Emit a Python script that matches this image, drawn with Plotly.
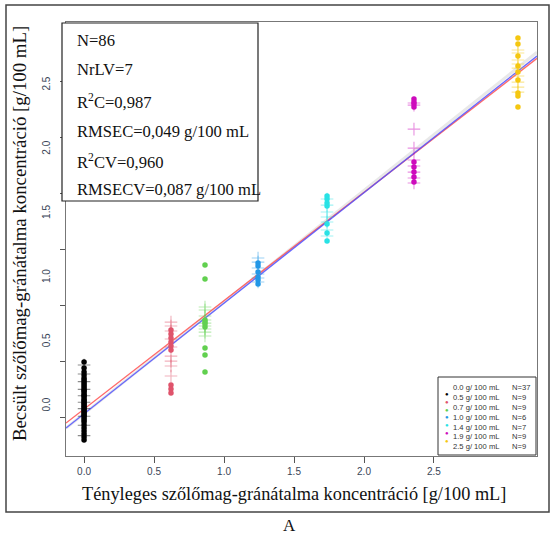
import plotly.graph_objects as go

# ---------------- data ----------------
groups = ["0.0 g/ 100 mL", "0.5 g/ 100 mL", "0.7 g/ 100 mL", "1.0 g/ 100 mL",
          "1.4 g/ 100 mL", "1.9 g/ 100 mL", "2.5 g/ 100 mL"]
group_n = ["N=37", "N=9", "N=9", "N=6", "N=7", "N=9", "N=9"]
colors = ["#000000", "#DF536B", "#61D04F", "#2297E6", "#28E2E5", "#CD0BBC", "#F5C710"]
cv_colors = ["rgba(0,0,0,0.45)", "rgba(223,83,107,0.45)", "rgba(97,208,79,0.45)",
             "rgba(34,151,230,0.45)", "rgba(40,226,229,0.45)", "rgba(205,11,188,0.45)",
             "rgba(245,199,16,0.45)"]
actual_x = [0.0, 0.621, 0.864, 1.243, 1.736, 2.357, 3.10]

pred_cal = [
    [0.343, 0.296, 0.265, 0.241, 0.218, 0.202, 0.187, 0.171, 0.156, 0.140, 0.125,
     0.117, 0.101, 0.086, 0.078, 0.062, 0.047, 0.039, 0.023, 0.016, 0.000, -0.008,
     -0.023, -0.031, -0.047, -0.055, -0.070, -0.078, -0.093, -0.109, -0.125, -0.148,
     -0.171, -0.195, -0.218, -0.241, -0.265],
    [0.592, 0.561, 0.530, 0.498, 0.467, 0.436, 0.164, 0.132, 0.101],
    [1.098, 0.989, 0.670, 0.654, 0.639, 0.615, 0.452, 0.397, 0.265],
    [1.114, 1.090, 1.044, 1.005, 0.981, 0.950],
    [1.636, 1.612, 1.581, 1.558, 1.417, 1.347, 1.285],
    [2.391, 2.368, 2.352, 2.329, 1.900, 1.861, 1.822, 1.783, 1.745],
    [2.866, 2.819, 2.726, 2.648, 2.601, 2.539, 2.438, 2.414, 2.329],
]
pred_cv = [
    [0.320, 0.250, 0.190, 0.130, 0.080, 0.030, -0.020, -0.080, -0.150, -0.230],
    [0.654, 0.623, 0.584, 0.522, 0.460, 0.389, 0.350, 0.312, 0.234],
    [0.771, 0.748, 0.701, 0.670, 0.646, 0.623, 0.600, 0.576, 0.545],
    [1.153, 1.121, 1.075, 1.028, 0.997, 0.966],
    [1.612, 1.565, 1.511, 1.472, 1.433, 1.371, 1.324],
    [2.360, 2.344, 2.157, 2.009, 1.916, 1.869, 1.822, 1.776, 1.737],
    [2.773, 2.749, 2.695, 2.664, 2.632, 2.570, 2.523, 2.484, 2.445],
]

# regression lines (intercept, slope)
fit_names = ["target", "calibration", "cross-validation"]
fit_intercept = [-0.060, -0.0235, -0.060]
fit_slope = [0.870, 0.844, 0.861]
fit_colors = ["rgba(190,190,190,0.35)", "rgba(255,80,80,0.85)", "rgba(80,80,255,0.85)"]
fit_widths = [3.0, 1.4, 1.4]

stats_lines = ["N=86", "NrLV=7", "R<sup>2</sup>C=0,987", "RMSEC=0,049 g/100 mL",
               "R<sup>2</sup>CV=0,960", "RMSECV=0,087 g/100 mL"]

x_ticks = [0.0, 0.5, 1.0, 1.5, 2.0, 2.5]
x_ticktext = ["0.0", "0.5", "1.0", "1.5", "2.0", "2.5"]
y_ticks = [0.0, 0.5, 1.0, 1.5, 2.0, 2.5]
y_ticktext = ["0.0", "0.5", "1.0", "1.5", "2.0", "2.5"]
y_tickmarks = [0.0, 0.5, 1.0, 1.5, 2.0, 2.5, 3.0]

x_title = "Tényleges szőlőmag-gránátalma koncentráció [g/100 mL]"
y_title = "Becsült szőlőmag-gránátalma koncentráció [g/100 mL]"

# ---------------- layout geometry ----------------
W, H = 554, 534
L, R, T, B = 66, 537, 22, 456          # plot area in pixels
x_range = [-0.129, 3.236]
y_range = [-0.389, 2.991]
y2_range = [-0.348, 3.527]


def px(x):
    return (x - L) / (R - L)


def py(y):
    return (B - y) / (B - T)


serif = "Liberation Serif, Times New Roman, serif"
sans = "Liberation Sans, Arial, sans-serif"

fig = go.Figure()

# fit lines
for name, b0, b1, c, w in zip(fit_names, fit_intercept, fit_slope, fit_colors, fit_widths):
    fig.add_trace(go.Scatter(x=x_range, y=[b0 + b1 * x_range[0], b0 + b1 * x_range[1]],
                             mode="lines", line=dict(color=c, width=w),
                             showlegend=False, hoverinfo="skip", name=name))

# cross-validation crosses
for i in range(len(groups)):
    fig.add_trace(go.Scatter(x=[actual_x[i]] * len(pred_cv[i]), y=pred_cv[i], mode="markers",
                             marker=dict(symbol="cross-thin", size=9,
                                         line=dict(color=cv_colors[i], width=1.1)),
                             showlegend=False, name=groups[i] + " CV"))

# calibration points
for i in range(len(groups)):
    fig.add_trace(go.Scatter(x=[actual_x[i]] * len(pred_cal[i]), y=pred_cal[i], mode="markers",
                             marker=dict(symbol="circle", size=5.5, color=colors[i]),
                             showlegend=False, name=groups[i]))

shapes = []
annotations = []

# statistics box
shapes.append(dict(type="rect", xref="paper", yref="paper", x0=px(62), x1=px(258),
                   y0=py(201), y1=py(23), line=dict(color="#222", width=1.2),
                   fillcolor="white", layer="above"))
rows_y = [41, 70, 101, 131, 161, 189]
for txt, yy in zip(stats_lines, rows_y):
    annotations.append(dict(text=txt, xref="paper", yref="paper", x=px(75), y=py(yy),
                            xanchor="left", yanchor="middle", showarrow=False,
                            font=dict(family=serif, size=16.6, color="#111")))

# legend box (bottom right)
shapes.append(dict(type="rect", xref="paper", yref="paper", x0=px(438), x1=px(536),
                   y0=py(455), y1=py(377), line=dict(color="#333", width=1),
                   fillcolor="white", layer="above"))
bul = "<br>".join(f"<span style='color:{c}'>●</span>" for c in colors)
lab = "<br>".join(groups)
nn = "<br>".join(group_n)
for txt, xx, fs in [(bul, 443, 6), (lab, 451, 7.6), (nn, 510, 7.6)]:
    annotations.append(dict(text=txt, xref="paper", yref="paper", x=px(xx), y=py(417),
                            xanchor="left", yanchor="middle", align="left", showarrow=False,
                            font=dict(family=sans, size=fs, color="#333")))

# axis titles
annotations.append(dict(text=x_title, xref="paper", yref="paper", x=px(294), y=py(494),
                        xanchor="center", yanchor="middle", showarrow=False,
                        font=dict(family=serif, size=18.3, color="#111")))
annotations.append(dict(text=y_title, xref="paper", yref="paper", x=px(19), y=py(234),
                        xanchor="center", yanchor="middle", showarrow=False, textangle=-90,
                        font=dict(family=serif, size=18.8, color="#111")))
annotations.append(dict(text="A", xref="paper", yref="paper", x=px(289), y=py(525),
                        xanchor="center", yanchor="middle", showarrow=False,
                        font=dict(family=serif, size=17, color="#111")))

# outer frame
shapes.append(dict(type="rect", xref="paper", yref="paper", x0=px(6), x1=px(549),
                   y0=py(512), y1=py(5), line=dict(color="#444", width=1.5),
                   fillcolor="rgba(0,0,0,0)", layer="below"))

fig.update_layout(
    width=W, height=H,
    margin=dict(l=L, r=W - R, t=T, b=H - B, pad=0),
    paper_bgcolor="white", plot_bgcolor="white",
    showlegend=False,
    shapes=shapes, annotations=annotations,
    xaxis=dict(range=x_range, tickvals=x_ticks, ticktext=x_ticktext, ticks="outside",
               ticklen=6, tickcolor="#555", showgrid=False, zeroline=False,
               showline=True, mirror=True, linecolor="#777", linewidth=1,
               tickfont=dict(family=sans, size=10, color="#3a4658")),
    yaxis=dict(range=y_range, tickvals=y_ticks, ticktext=y_ticktext, ticks="",
               tickangle=-90, showgrid=False, zeroline=False,
               showline=True, mirror=True, linecolor="#777", linewidth=1,
               ticklabelstandoff=11,
               tickfont=dict(family=sans, size=10, color="#3a4658")),
    yaxis2=dict(range=y2_range, overlaying="y", side="left", tickvals=y_tickmarks,
                ticks="outside", ticklen=5, tickcolor="#555", showticklabels=False,
                showgrid=False, zeroline=False, showline=False),
)

# invisible trace to anchor yaxis2
fig.add_trace(go.Scatter(x=[x_range[0]], y=[y2_range[0]], yaxis="y2", mode="markers",
                         marker=dict(opacity=0), showlegend=False, hoverinfo="skip"))

fig.write_html("out.html", config={"displayModeBar": False},
               post_script="document.body.style.margin='0';document.body.style.overflow='hidden';")
